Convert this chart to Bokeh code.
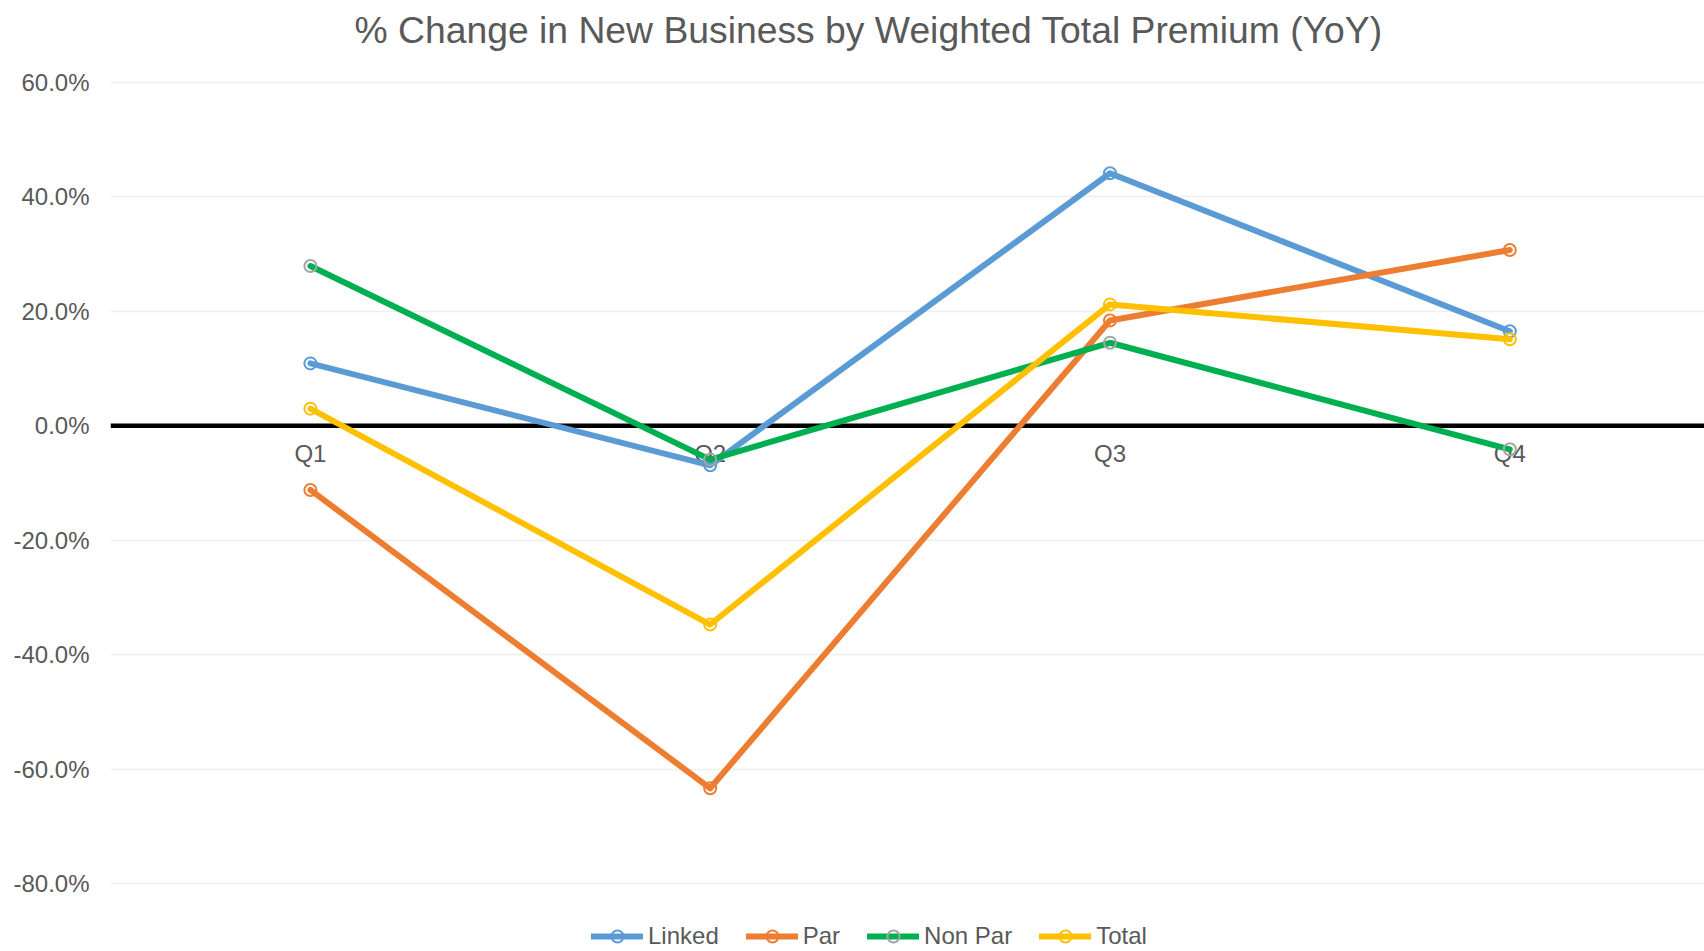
from bokeh.plotting import figure
from bokeh.models import (Range1d, Span, Legend, LegendItem, NumeralTickFormatter,
                          FixedTicker, ColumnDataSource, Label)
from bokeh.core.properties import value
from bokeh.embed import file_html
from bokeh.resources import INLINE

# ---- data ----
quarters = ["Q1", "Q2", "Q3", "Q4"]
linked = [0.109, -0.069, 0.441, 0.165]
par = [-0.112, -0.633, 0.184, 0.307]
non_par = [0.279, -0.059, 0.145, -0.041]
total = [0.030, -0.347, 0.212, 0.151]
series_names = ["Linked", "Par", "Non Par", "Total"]
y_ticks = [-0.8, -0.6, -0.4, -0.2, 0.0, 0.2, 0.4, 0.6]
title_text = "% Change in New Business by Weighted Total Premium (YoY)"

FONT = "Liberation Sans"
GREY = "#595959"

line_colors = ["#5B9BD5", "#ED7D31", "#00B050", "#FFC000"]
marker_colors = ["#5B9BD5", "#ED7D31", "#A5A5A5", "#FFC000"]

xs = list(range(len(quarters)))

# the frame fills the figure vertically so the title and legend can sit inside it
p = figure(width=1704, height=951, output_backend="svg", toolbar_location=None,
           x_range=Range1d(-0.5, 3.487), y_range=Range1d(-0.918, 0.7427),
           min_border_left=110, min_border_right=0, min_border_top=0, min_border_bottom=0)
p.outline_line_color = None
p.background_fill_color = "white"
p.border_fill_color = "white"

p.xaxis.visible = False
p.xgrid.visible = False

yax = p.yaxis[0]
yax.ticker = FixedTicker(ticks=y_ticks)
yax.formatter = NumeralTickFormatter(format="0.0%")
yax.axis_line_color = None
yax.major_tick_line_color = None
yax.minor_tick_line_color = None
yax.major_label_text_font = FONT
yax.major_label_text_font_size = "24px"
yax.major_label_text_color = GREY
yax.major_label_standoff = 15

p.ygrid.ticker = FixedTicker(ticks=y_ticks)
p.ygrid.grid_line_color = "#EEEEEE"
p.ygrid.grid_line_width = 1.5

zero = Span(location=0, dimension="width", line_color="black", line_width=4.5, level="underlay")
p.add_layout(zero)

title = Label(text=title_text, x=244, y=922, x_units="screen", y_units="screen",
              text_font=FONT, text_font_size="37.3px", text_color=GREY,
              text_align="left", text_baseline="alphabetic")
p.add_layout(title)

# category labels sitting just under the zero line
lab_src = ColumnDataSource(dict(x=xs, y=[0.0] * len(xs), t=quarters))
p.text(x="x", y="y", text="t", source=lab_src, text_font=value(FONT),
       text_font_size="24px", text_color=GREY, text_align="center",
       text_baseline="alphabetic", y_offset=28)

items = []
for name, vals, lc, mc in zip(series_names, [linked, par, non_par, total], line_colors, marker_colors):
    src = ColumnDataSource(dict(x=xs, y=vals))
    r1 = p.line("x", "y", source=src, line_color=lc, line_width=6,
                line_join="round", line_cap="round")
    r2 = p.scatter("x", "y", source=src, marker="circle", size=12,
                   fill_color=None, line_color=mc, line_width=2)
    items.append(LegendItem(label=name, renderers=[r1, r2]))

legend = Legend(items=items, orientation="horizontal", location=(481, 0),
                glyph_width=52, glyph_height=30, label_standoff=5, spacing=27,
                padding=0, margin=0, border_line_color=None, background_fill_alpha=0,
                label_text_font=FONT, label_text_font_size="24px", label_text_color=GREY)
p.add_layout(legend, "center")

open("out.html", "w").write(file_html(p, INLINE))
